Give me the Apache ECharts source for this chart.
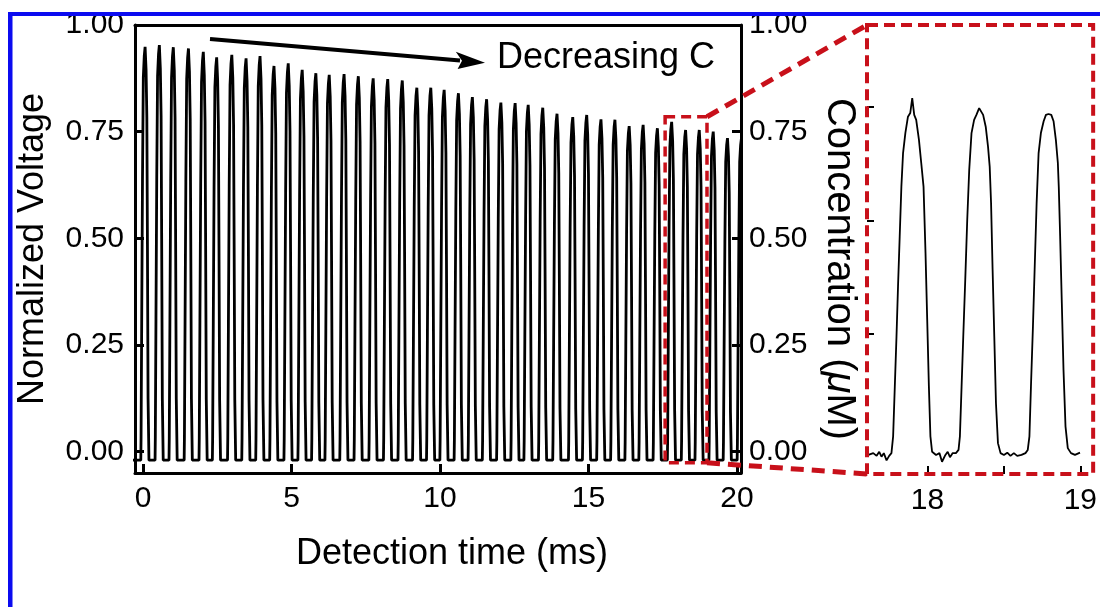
<!DOCTYPE html>
<html><head><meta charset="utf-8">
<script src="https://cdn.jsdelivr.net/npm/echarts@6/dist/echarts.min.js"></script>
<style>html,body{margin:0;padding:0;background:#fff}#c{width:1100px;height:607px}</style>
</head><body><div id="c"></div>
<script>
const FONT = '"Liberation Sans", Arial, sans-serif';
const RED = '#c8101a';
const BLUE = '#0b0bf0';

// main axes
const xTicks = [0, 5, 10, 15, 20];
const yTicks = [0, 0.25, 0.5, 0.75, 1];
const yTickLabels = ['0.00', '0.25', '0.50', '0.75', '1.00'];

// main trace: pulse peak times (ms) and peak heights
const peakTimes = [0.07,0.55,1.02,1.53,2.03,2.48,2.99,3.47,3.94,4.41,4.89,5.36,5.82,6.27,6.77,7.25,7.75,8.24,8.73,9.22,9.69,10.14,10.62,11.09,11.57,12.05,12.53,12.97,13.46,13.94,14.47,14.94,15.42,15.89,16.37,16.84,17.32,17.80,18.27,18.73,19.20,19.68,20.15];
const peakHeights = [0.949,0.953,0.948,0.945,0.937,0.924,0.930,0.922,0.927,0.904,0.910,0.895,0.887,0.883,0.885,0.880,0.875,0.873,0.870,0.853,0.853,0.848,0.840,0.831,0.826,0.818,0.817,0.813,0.806,0.792,0.784,0.789,0.779,0.778,0.763,0.766,0.758,0.773,0.754,0.754,0.750,0.735,0.735];
const baseLevel = -0.02;
// single pulse profile (time offset from peak, fraction of height)
const pulseOffsets   = [-0.145,-0.136,-0.114,-0.088,-0.060,-0.028,0,0.033,0.059,0.078,0.100,0.130];
const pulseFractions = [0,0.054,0.341,0.676,0.926,0.978,1,0.944,0.829,0.533,0.149,0];

// inset trace
const insetTimes = [17.613,17.645,17.667,17.684,17.699,17.714,17.732,17.749,17.764,17.775,17.786,17.797,17.807,17.818,17.829,17.840,17.855,17.872,17.887,17.900,17.913,17.926,17.944,17.959,17.974,17.987,17.998,18.009,18.019,18.030,18.056,18.078,18.095,18.117,18.132,18.147,18.165,18.186,18.203,
18.212,18.223,18.234,18.247,18.260,18.273,18.288,18.305,18.320,18.338,18.348,18.364,18.381,18.396,18.407,18.416,18.426,18.437,18.448,18.461,18.478,18.500,18.522,18.543,18.565,18.587,18.615,18.641,18.656,
18.667,18.677,18.690,18.701,18.714,18.727,18.742,18.760,18.775,18.792,18.810,18.825,18.840,18.853,18.859,18.868,18.879,18.890,18.903,18.918,18.939,18.965,18.998];
const insetValues = [-0.016,-0.012,-0.018,-0.009,-0.020,-0.012,-0.028,-0.018,-0.012,0.025,0.135,0.245,0.355,0.465,0.575,0.649,0.693,0.729,0.737,0.770,0.733,0.722,0.678,0.627,0.575,0.428,0.282,0.135,0.025,-0.009,-0.016,-0.012,-0.031,-0.016,-0.009,-0.021,-0.012,-0.012,-0.005,
0.025,0.135,0.245,0.370,0.502,0.612,0.693,0.722,0.733,0.748,0.750,0.733,0.707,0.663,0.619,0.538,0.392,0.245,0.098,0.010,-0.012,-0.016,-0.011,-0.018,-0.012,-0.018,-0.016,-0.012,-0.005,
0.025,0.135,0.267,0.392,0.538,0.649,0.693,0.719,0.733,0.735,0.733,0.719,0.678,0.627,0.575,0.465,0.318,0.171,0.047,-0.001,-0.012,-0.016,-0.011];
const insetXTicks = [18, 18.5, 19];
const insetXLabels = [18, 19];
const insetYTicks = [0.25, 0.5, 0.75];

// zoom window marked in the main plot
const zoomWindow = [17.58, 18.99];
const zoomLevels = [-0.026, 0.785];

const mainData = [[-0.4, baseLevel]];
peakTimes.forEach((t, i) => {
  pulseOffsets.forEach((o, k) => {
    mainData.push([t + o, baseLevel + pulseFractions[k] * (peakHeights[i] - baseLevel)]);
  });
});
const insetData = insetTimes.map((t, i) => [t, insetValues[i]]);

const chart = echarts.init(document.getElementById('c'), null, {renderer: 'canvas'});
const frame = {show: true, onZero: false, lineStyle: {color: '#000', width: 3}};
const tickStyle = {color: '#000', width: 3};
const lbl = {fontSize: 30, color: '#000', fontFamily: FONT};
const nameStyle = {fontSize: 36, color: '#000', fontFamily: FONT};

chart.setOption({
  animation: false,
  backgroundColor: '#fff',
  grid: [
    {left: 135, top: 25, width: 606, height: 448},
    {left: 867, top: 25, width: 228, height: 449}
  ],
  xAxis: [
    {gridIndex: 0, type: 'value', min: -0.27, max: 20.135, axisLine: frame,
     axisTick: {show: true, inside: true, length: 9, lineStyle: tickStyle, customValues: xTicks},
     axisLabel: Object.assign({customValues: xTicks, margin: 11}, lbl),
     splitLine: {show: false},
     name: 'Detection time (ms)', nameLocation: 'middle', nameGap: 63,
     nameTextStyle: Object.assign({padding: [0, 0, 0, 28]}, nameStyle)},
    {gridIndex: 0, type: 'value', position: 'top', min: -0.27, max: 20.135, axisLine: frame,
     axisTick: {show: false}, axisLabel: {show: false}, splitLine: {show: false}},
    {gridIndex: 1, type: 'value', min: 17.604, max: 19.084, axisLine: {show: false, onZero: false},
     axisTick: {show: true, inside: true, length: 8, lineStyle: {color: '#000', width: 2}, customValues: insetXTicks},
     axisLabel: Object.assign({customValues: insetXLabels, margin: 12}, lbl),
     splitLine: {show: false}}
  ],
  yAxis: [
    {gridIndex: 0, type: 'value', min: -0.05, max: 1, position: 'left', axisLine: frame,
     axisTick: {show: true, inside: true, length: 9, lineStyle: tickStyle, customValues: yTicks},
     axisLabel: Object.assign({customValues: yTicks, margin: 11, padding: [10, 0, 0, 0],
       formatter: v => yTickLabels[yTicks.indexOf(v)]}, lbl),
     splitLine: {show: false},
     name: 'Normalized Voltage', nameLocation: 'middle', nameGap: 84, nameRotate: 90,
     nameTextStyle: nameStyle},
    {gridIndex: 0, type: 'value', min: -0.05, max: 1, position: 'right', axisLine: frame,
     axisTick: {show: true, inside: true, length: 9, lineStyle: tickStyle, customValues: yTicks},
     axisLabel: Object.assign({customValues: yTicks, margin: 8, padding: [10, 0, 0, 0],
       formatter: v => yTickLabels[yTicks.indexOf(v)]}, lbl),
     splitLine: {show: false},
     name: 'Concentration ({i|\u03bc}M)', nameLocation: 'middle', nameGap: 78, nameRotate: -90,
     nameTextStyle: Object.assign({}, nameStyle, {fontSize: 40, padding: [0, 0, 0, 40],
       rich: {i: {fontSize: 40, fontStyle: 'italic', fontFamily: FONT, color: '#000'}}})},
    {gridIndex: 1, type: 'value', min: -0.058, max: 0.931, axisLine: {show: false, onZero: false},
     axisTick: {show: true, inside: true, length: 7, lineStyle: {color: '#000', width: 2}, customValues: insetYTicks},
     axisLabel: {show: false}, splitLine: {show: false}}
  ],
  series: [
    {type: 'line', xAxisIndex: 0, yAxisIndex: 0, data: mainData, showSymbol: false, symbol: 'none',
     lineStyle: {color: '#000', width: 2.8}, clip: true},
    {type: 'line', xAxisIndex: 2, yAxisIndex: 2, data: insetData, showSymbol: false, symbol: 'none',
     lineStyle: {color: '#000', width: 1.8}, clip: true}
  ]
});

const a = chart.convertToPixel({xAxisIndex: 0, yAxisIndex: 0}, [zoomWindow[0], zoomLevels[1]]);
const b = chart.convertToPixel({xAxisIndex: 0, yAxisIndex: 0}, [zoomWindow[1], zoomLevels[0]]);
const iTL = chart.convertToPixel({xAxisIndex: 2, yAxisIndex: 2}, [17.604, 0.931]);
const iBR = chart.convertToPixel({xAxisIndex: 2, yAxisIndex: 2}, [19.084, -0.058]);

const tip = [485, 62.7];
chart.setOption({
  graphic: [
    {type: 'rect', z: 200, shape: {x: 8, y: 12, width: 1092, height: 4}, style: {fill: BLUE}},
    {type: 'rect', z: 200, shape: {x: 8, y: 12, width: 4.5, height: 595}, style: {fill: BLUE}},
    {type: 'line', z: 100, shape: {x1: 210, y1: 39, x2: 460, y2: 60.4}, style: {stroke: '#000', lineWidth: 4}},
    {type: 'polygon', z: 100, shape: {points: [tip, [455.8, 51.8], [462, 60.8], [457.6, 69]]}, style: {fill: '#000'}},
    {type: 'text', z: 100, x: 497, y: 58, style: {text: 'Decreasing C', fontSize: 36, fontFamily: FONT, fill: '#000', align: 'left', verticalAlign: 'middle'}},
    {type: 'rect', z: 100, shape: {x: a[0], y: a[1], width: b[0] - a[0], height: b[1] - a[1]},
     style: {fill: 'none', stroke: RED, lineWidth: 3.5, lineDash: [10, 6]}},
    {type: 'line', z: 100, shape: {x1: b[0], y1: a[1], x2: iTL[0], y2: iTL[1]},
     style: {stroke: RED, lineWidth: 5, lineDash: [13, 8]}},
    {type: 'line', z: 100, shape: {x1: b[0], y1: b[1], x2: iTL[0], y2: iBR[1]},
     style: {stroke: RED, lineWidth: 5, lineDash: [13, 8]}},
    {type: 'rect', z: 100, shape: {x: iTL[0], y: iTL[1], width: iBR[0] - iTL[0], height: iBR[1] - iTL[1]},
     style: {fill: 'none', stroke: RED, lineWidth: 4, lineDash: [11, 6]}}
  ]
});
</script>
</body></html>
